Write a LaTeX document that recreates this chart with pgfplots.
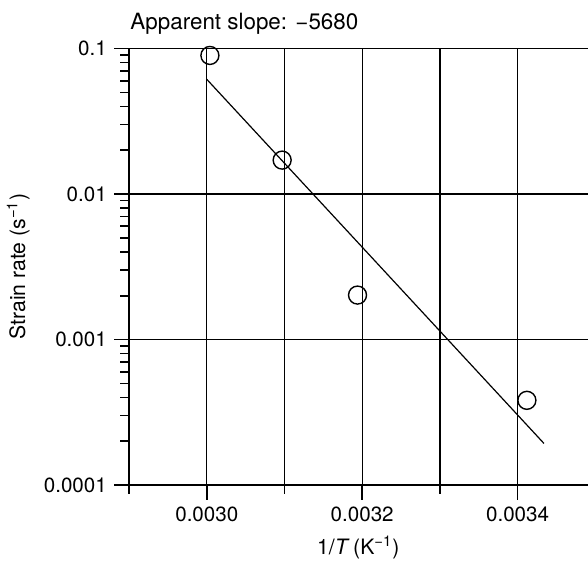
\documentclass[border=0pt]{standalone}
\usepackage{fontspec}
\setmainfont{TeX Gyre Heros}
\usepackage{pgfplots}
\pgfplotsset{compat=1.18}
\begin{document}
\fontsize{10.3}{12}\selectfont
\begin{tikzpicture}
\begin{axis}[
  scale only axis, width=229.2pt, height=218.25pt,
  ymode=log,
  xmin=0.0029, xmax=0.00349, ymin=0.0001, ymax=0.1,
  axis x line=bottom, axis y line=left,
  axis line style={-, line width=1pt, black},
  scaled x ticks=false,
  xtick={0.0030,0.0032,0.0034}, xticklabels={0.0030,0.0032,0.0034},
  minor xtick={0.0029,0.0031,0.0033},
  ytick={0.0001,0.001,0.01,0.1}, yticklabels={0.0001,0.001,0.01,0.1},
  minor ytick={2e-4,3e-4,4e-4,5e-4,6e-4,7e-4,8e-4,9e-4,2e-3,3e-3,4e-3,5e-3,6e-3,7e-3,8e-3,9e-3,2e-2,3e-2,4e-2,5e-2,6e-2,7e-2,8e-2,9e-2},
  xmajorgrids, xminorgrids, ymajorgrids,
  grid style={black, line width=0.65pt},
  minor grid style={black, line width=0.65pt},
  tick align=outside, major tick length=7.5pt, minor tick length=4.5pt,
  tick style={black, line width=0.8pt},
  clip=false,
  /pgf/number format/assume math mode=true,
  ticklabel style={font=\fontsize{10.3}{12}\selectfont},
  label style={font=\fontsize{10.6}{12}\selectfont},
  xlabel={1/\textit{T}\,(K\textsuperscript{−1})},
  ylabel={Strain rate (s\textsuperscript{−1})},
]
\addplot[only marks, mark=o, mark size=4.5pt, mark options={line width=0.7pt, black}] coordinates {
  (0.003004, 0.0896) (0.003097, 0.0171) (0.003194, 0.00202) (0.003412, 0.000382)
};
\addplot[black, line width=0.6pt] coordinates {(0.0030, 0.0614) (0.003434, 0.000193)};
\node[anchor=base west, inner sep=0pt, font=\fontsize{11.2}{13}\selectfont] at ([yshift=9.75pt, xshift=0.5pt]rel axis cs:0,1) {Apparent slope: −5680};
\coordinate (bl) at (rel axis cs:0,0);
\coordinate (tr) at (rel axis cs:1,1);
\end{axis}
\pgfresetboundingbox
\path ([shift={(-64.55pt,-39pt)}]bl) rectangle ([shift={(0.25pt,24.25pt)}]tr);
\end{tikzpicture}
\end{document}
